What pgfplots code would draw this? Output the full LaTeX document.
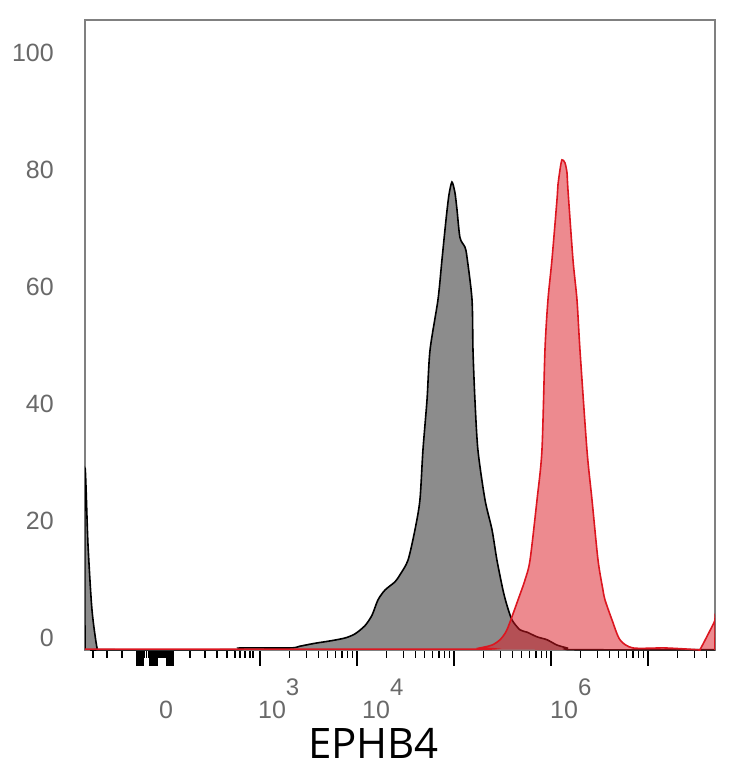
\documentclass[border=0pt]{standalone}
\usepackage{pgfplots}
\pgfplotsset{compat=1.18}
\usepackage{fontspec}
\setmainfont{Liberation Sans}
\newfontfamily\osans{Open Sans}
\definecolor{hred}{RGB}{220,22,32}
\definecolor{hgray}{RGB}{140,140,140}
\definecolor{lblgray}{RGB}{105,105,105}
\begin{document}
\begin{tikzpicture}
\useasboundingbox (-85pt,-118pt) rectangle (649pt,650pt);
\begin{axis}[
  at={(0pt,0pt)}, anchor=south west,
  scale only axis, width=630pt, height=630pt,
  xmin=1.196, xmax=7.691, ymin=-2.05, ymax=105.6,
  clip mode=individual,
  axis line style={black!50, line width=1.5pt},
  tick align=outside,
  xtick pos=left, ytick pos=left,
  xtick={1.735,1.755,1.775,1.790,1.870,1.890,1.910,1.933,2.045,2.065,2.085,2.100,3,4,5,6,7},
  minor xtick={1.278,1.423,1.577,1.81,1.83,1.85,1.95,1.97,1.99,2.01,2.025,
    2.278,2.433,2.557,2.660,2.742,2.794,2.845,2.897,2.928,
    3.301,3.477,3.602,3.699,3.778,3.845,3.903,3.954,
    4.301,4.477,4.602,4.699,4.778,4.845,4.903,4.954,
    5.301,5.477,5.602,5.699,5.778,5.845,5.903,5.954,
    6.301,6.477,6.602,6.699,6.778,6.845,6.903,6.954,
    7.301,7.477,7.602},
  xticklabels={},
  major tick length=16pt, minor tick length=8pt,
  major tick style={line width=2.4pt, black},
  minor tick style={line width=1.2pt, black},
  ytick={0,20,40,60,80,100},
  yticklabels={0,20,40,60,80,100},
  ytick style={draw=none},
  yticklabel style={font=\fontsize{25}{25}\selectfont, text=lblgray, anchor=east, inner sep=0pt, xshift=-15pt},
  xlabel={EPHB4},
  xlabel style={font=\osans\fontsize{42}{42}\selectfont, at={(axis description cs:0.458,0)}, anchor=base, yshift=-108pt, inner sep=0pt},
]
\addplot[draw=black, line width=1.6pt, fill=hgray, smooth, tension=0.45] coordinates {
(1.196,-2.05) (1.196,28.7) (1.227,15.9) (1.268,4.8) (1.320,-1.7) (1.351,-2.0)
(2.742,-2.0) (2.794,-1.7) (3.309,-1.7) (3.412,-1.4) (3.567,-0.9) (3.722,-0.5)
(3.876,0.0) (3.979,0.7) (4.082,2.1) (4.155,3.9) (4.216,6.5) (4.289,8.2)
(4.392,9.6) (4.443,10.8) (4.526,13.3) (4.598,18.5) (4.649,23.6) (4.680,32.1)
(4.722,40.7) (4.753,49.2) (4.835,57.8) (4.876,64.6) (4.918,71.5) (4.948,75.7)
(4.979,77.9) (5.010,76.1) (5.031,73.2) (5.062,68.4) (5.113,66.8) (5.134,65.1)
(5.186,57.8) (5.196,49.2) (5.216,40.7) (5.247,32.1) (5.320,23.6) (5.392,18.5)
(5.443,13.3) (5.505,8.2) (5.546,5.6) (5.598,3.1) (5.680,1.4) (5.753,1.0)
(5.856,0.2) (5.959,-0.3) (6.062,-1.2) (6.165,-1.7) (6.247,-2.0) (7.691,-2.0)
};
\addplot[draw=hred, line width=1.6pt, fill=hred, fill opacity=0.5, smooth, tension=0.45] coordinates {
(1.196,-1.9) (5.165,-1.9) (5.268,-1.7) (5.392,-1.2) (5.474,-0.3) (5.546,1.4)
(5.660,6.5) (5.732,9.9) (5.784,13.3) (5.856,23.6) (5.907,32.1) (5.938,49.2)
(5.969,57.8) (6.010,64.6) (6.062,74.9) (6.072,77.4) (6.093,80.0) (6.113,81.7)
(6.144,81.2) (6.165,79.5) (6.175,76.6) (6.227,64.6) (6.268,57.8) (6.299,49.2)
(6.371,32.1) (6.423,23.6) (6.485,13.3) (6.536,8.2) (6.557,6.5) (6.629,3.1)
(6.711,-0.3) (6.845,-1.7) (7.175,-1.7) (7.515,-2.0) (7.536,-2.0) (7.680,2.6)
(7.691,3.1) (7.691,-2.05)
};
\begin{scope}[every node/.style={inner sep=0pt, text=lblgray, font=\fontsize{25}{25}\selectfont}]
\node[anchor=base] at (axis cs:2.031,-2.05) [yshift=-68pt] {0};
\node[anchor=base west] at (axis cs:2.979,-2.05) [yshift=-68pt] {10\raisebox{23pt}{\fontsize{24}{24}\selectfont 3}};
\node[anchor=base west] at (axis cs:4.052,-2.05) [yshift=-68pt] {10\raisebox{23pt}{\fontsize{24}{24}\selectfont 4}};
\node[anchor=base west] at (axis cs:5.990,-2.05) [yshift=-68pt] {10\raisebox{23pt}{\fontsize{24}{24}\selectfont 6}};
\end{scope}
\end{axis}
\end{tikzpicture}
\end{document}
